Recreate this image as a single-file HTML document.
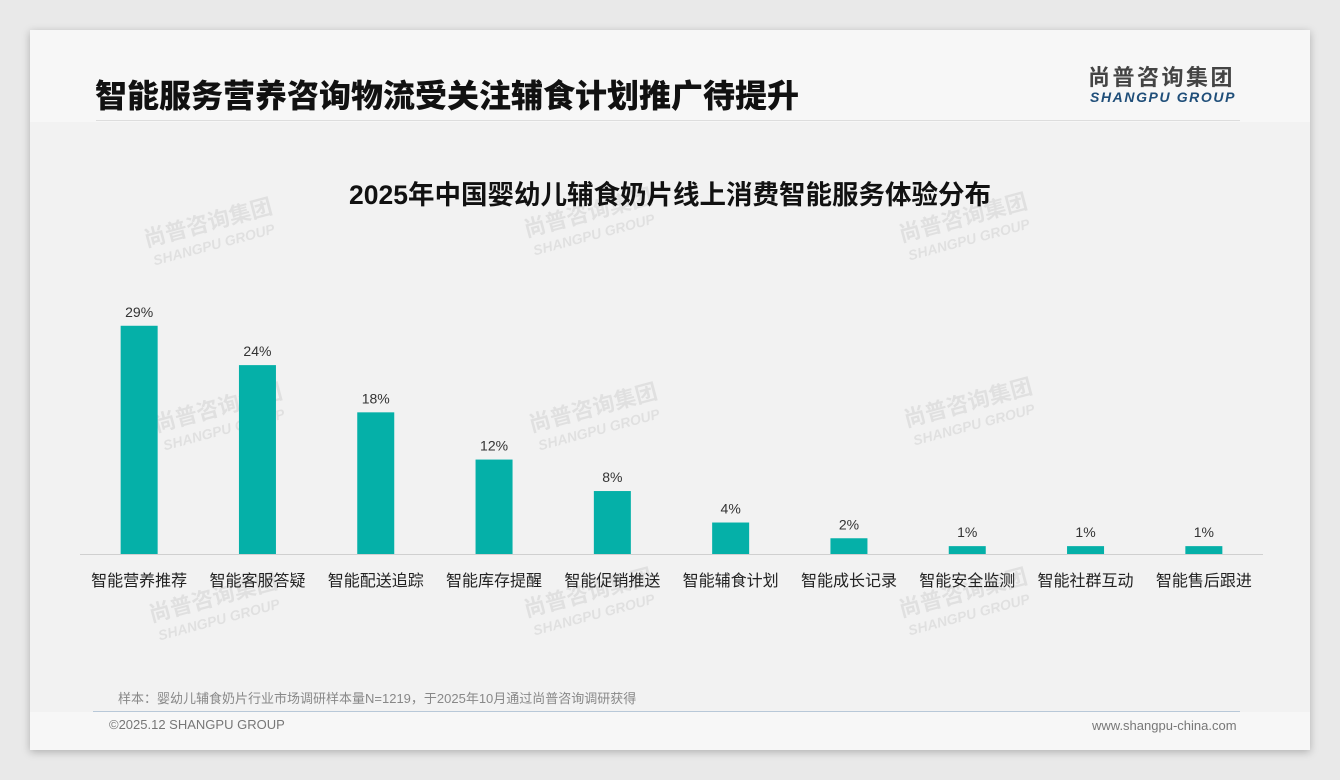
<!DOCTYPE html>
<html><head><meta charset="utf-8">
<style>
body{margin:0;width:1340px;height:780px;background:#e9e9e9;font-family:"Liberation Sans","Noto Sans CJK SC",sans-serif;position:relative;overflow:hidden}
#card{position:absolute;left:30px;top:30px;width:1280px;height:720px;background:#f7f7f7;box-shadow:0 2px 8px rgba(0,0,0,.25)}
#plotbg{position:absolute;left:0;top:92px;width:1280px;height:590px;background:#f2f2f2}
.abs{position:absolute;white-space:nowrap}
</style></head><body>
<div id="card">
<div id="plotbg"></div>
<div class="abs" style="left:65px;top:44px;font-size:32px;font-weight:900;color:#111;font-family:'Noto Sans CJK SC',sans-serif;line-height:40px">智能服务营养咨询物流受关注辅食计划推广待提升</div>
<div class="abs" style="left:66px;top:90px;width:1144px;height:1px;background:#ddd"></div>
<div class="abs" style="left:1058px;top:30px;font-size:22px;font-weight:bold;color:#444;letter-spacing:2.5px;font-family:'Noto Sans CJK SC',sans-serif">尚普咨询集团</div>
<div class="abs" style="left:1060px;top:59px;font-size:14px;font-weight:bold;font-style:italic;color:#1f4e79;letter-spacing:1.6px">SHANGPU GROUP</div>
<div class="abs" style="left:88px;top:658px;font-size:13px;color:#888">样本：婴幼儿辅食奶片行业市场调研样本量N=1219，于2025年10月通过尚普咨询调研获得</div>
<div class="abs" style="left:63px;top:681px;width:1147px;height:1px;background:#b8c8d8"></div>
<div class="abs" style="left:79px;top:687px;font-size:13px;color:#777">©2025.12 SHANGPU GROUP</div>
<div class="abs" style="left:1062px;top:688px;font-size:13px;color:#777">www.shangpu-china.com</div>
</div>
<svg id="chart" class="abs" style="left:0;top:0" width="1340" height="780"></svg>
<script>
const categories=["智能营养推荐","智能客服答疑","智能配送追踪","智能库存提醒","智能促销推送","智能辅食计划","智能成长记录","智能安全监测","智能社群互动","智能售后跟进"];
const values=[29,24,18,12,8,4,2,1,1,1];
const valueLabels=["29%","24%","18%","12%","8%","4%","2%","1%","1%","1%"];
const NS="http://www.w3.org/2000/svg";
const svg=document.getElementById('chart');
const x0=80,x1=1263,base=554,scale=7.87,bw=37;
const step=(x1-x0)/categories.length;
const xc=i=>x0+step*(i+0.5);
const y=v=>base-v*scale;
function mk(t,a){const e=document.createElementNS(NS,t);for(const k in a)e.setAttribute(k,a[k]);svg.appendChild(e);return e;}
const wmPos=[[210,230],[590,220],[965,225],[220,415],[595,415],[970,410],[215,605],[590,600],[965,600]];
wmPos.forEach(p=>{const g=mk('g',{transform:`rotate(-15 ${p[0]} ${p[1]})`});
const t1=document.createElementNS(NS,'text');t1.setAttribute('x',p[0]);t1.setAttribute('y',p[1]);t1.setAttribute('text-anchor','middle');t1.setAttribute('font-size','22');t1.setAttribute('font-weight','bold');t1.setAttribute('fill','rgba(0,0,0,0.07)');t1.textContent='尚普咨询集团';g.appendChild(t1);
const t2=document.createElementNS(NS,'text');t2.setAttribute('x',p[0]);t2.setAttribute('y',p[1]+20);t2.setAttribute('text-anchor','middle');t2.setAttribute('font-size','14');t2.setAttribute('font-weight','bold');t2.setAttribute('font-style','italic');t2.setAttribute('fill','rgba(0,0,0,0.07)');t2.textContent='SHANGPU GROUP';g.appendChild(t2);});
const title=mk('text',{x:670,y:204,'text-anchor':'middle','font-size':'26.5','font-weight':'bold',fill:'#111','font-family':'Liberation Sans, Noto Sans CJK SC, sans-serif'});


title.textContent='2025年中国婴幼儿辅食奶片线上消费智能服务体验分布';
const ax=mk('line',{x1:x0,x2:x1,y1:base+0.5,y2:base+0.5,stroke:'#d0d0d0','stroke-width':1});


categories.forEach((c,i)=>{
 const r=mk('rect',{x:xc(i)-bw/2,y:y(values[i]),width:bw,height:values[i]*scale,fill:'#05b0a8'});
 
 
 const v=mk('text',{x:xc(i),y:y(values[i])-9,'text-anchor':'middle','font-size':'14',fill:'#333'});
 
 
 v.textContent=valueLabels[i];
 const l=mk('text',{x:xc(i),y:586,'text-anchor':'middle','font-size':'16',fill:'#222'});
 
 
 l.textContent=c;
});
</script>
</body></html>
